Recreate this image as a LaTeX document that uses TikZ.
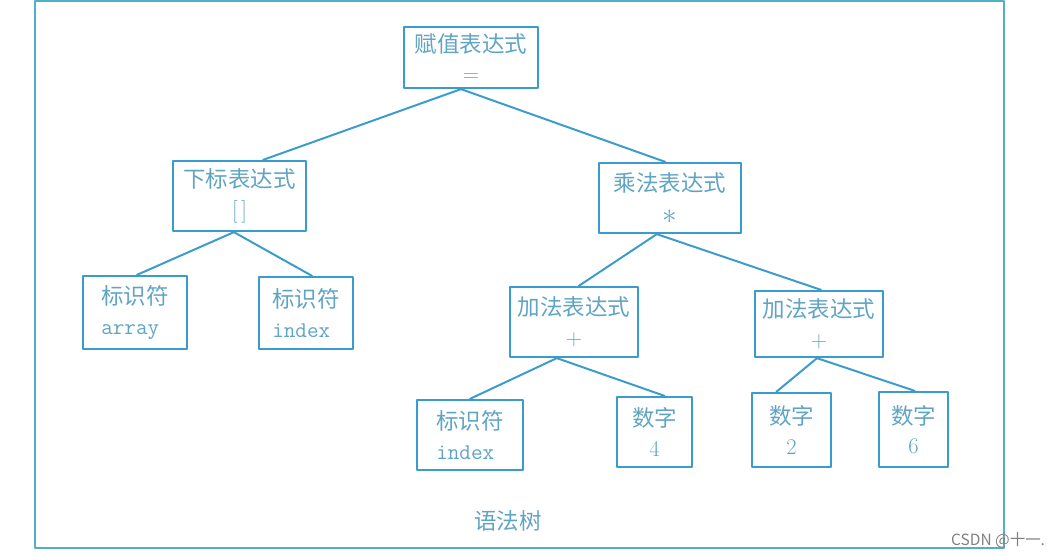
\documentclass[tikz,border=0pt]{standalone}
\usepackage{fontspec}
\newfontfamily\cjk{Noto Sans CJK SC}
\newcommand\zh[1]{{\cjk #1}}
\definecolor{boxline}{RGB}{58,156,204}
\definecolor{boxtext}{RGB}{96,164,196}
\definecolor{frameline}{RGB}{80,176,200}
\begin{document}
\begin{tikzpicture}[x=0.025cm,y=-0.025cm, line join=round, line cap=round,
	tbox/.style={draw=boxline, line width=1.6pt, inner sep=0pt, align=center, text=boxtext, font=\fontsize{16}{21}\selectfont},
	edge/.style={draw=boxline, line width=1.4pt}]
	\useasboundingbox (0,0) rectangle (1058,556);
	\draw[draw=frameline, line width=1.4pt] (35,1) rectangle (1004,548);
	% boxes of the tree
	\node[tbox, minimum width=3.35cm, minimum height=1.525cm] (assign) at (471,57.5) {\zh{赋值表达式}\\=};
	\node[tbox, minimum width=3.325cm, minimum height=1.75cm] (subscript) at (239.5,196) {\zh{下标表达式}\\{[\,]}};
	\node[tbox, align=left, minimum width=2.6cm, minimum height=1.825cm] (arrayid) at (135,312.5) {\zh{标识符}\\\texttt{array}};
	\node[tbox, align=left, minimum width=2.35cm, minimum height=1.8cm] (indexid) at (306,313) {\zh{标识符}\\\texttt{index}};
	\node[tbox, minimum width=3.55cm, minimum height=1.75cm] (mul) at (670,198) {\zh{乘法表达式}\\[2pt]{\fontsize{22}{21}\selectfont$\ast$}};
	\node[tbox, minimum width=3.2cm, minimum height=1.75cm] (addl) at (574,322) {\zh{加法表达式}\\+};
	\node[tbox, minimum width=3.2cm, minimum height=1.65cm] (addr) at (819,324) {\zh{加法表达式}\\+};
	\node[tbox, align=left, minimum width=2.65cm, minimum height=1.75cm] (indexid2) at (470,435) {\zh{标识符}\\\texttt{index}};
	\node[tbox, minimum width=1.875cm, minimum height=1.75cm] (numfour) at (654.5,432) {\zh{数字}\\4};
	\node[tbox, minimum width=1.975cm, minimum height=1.85cm] (numtwo) at (791.5,430) {\zh{数字}\\2};
	\node[tbox, minimum width=1.725cm, minimum height=1.875cm] (numsix) at (913.5,429.5) {\zh{数字}\\6};
	% connectors
	\draw[edge] ([xshift=-0.25cm]assign.south) -- ([xshift=0.59cm]subscript.north);
	\draw[edge] ([xshift=-0.25cm]assign.south) -- ([xshift=-0.12cm]mul.north);
	\draw[edge] ([xshift=-0.14cm]subscript.south) -- ([xshift=0.05cm]arrayid.north);
	\draw[edge] ([xshift=-0.14cm]subscript.south) -- ([xshift=0.15cm]indexid.north);
	\draw[edge] ([xshift=-0.33cm]mul.south) -- ([xshift=0.12cm]addl.north);
	\draw[edge] ([xshift=-0.33cm]mul.south) -- ([xshift=0.05cm]addr.north);
	\draw[edge] ([xshift=-0.43cm]addl.south) -- (indexid2.north);
	\draw[edge] ([xshift=-0.43cm]addl.south) -- ([xshift=0.25cm]numfour.north);
	\draw[edge] ([xshift=-0.05cm]addr.south) -- ([xshift=-0.38cm]numtwo.north);
	\draw[edge] ([xshift=-0.05cm]addr.south) -- ([xshift=0.03cm]numsix.north);
	% labels
	\node[text=boxtext, font=\fontsize{16}{21}\selectfont] (caption) at (508,521) {\zh{语法树}};
	\node[text=gray, anchor=east, font=\fontsize{11}{12}\selectfont\cjk] (mark) at (1050,540) {CSDN @十一.};
\end{tikzpicture}
\end{document}
